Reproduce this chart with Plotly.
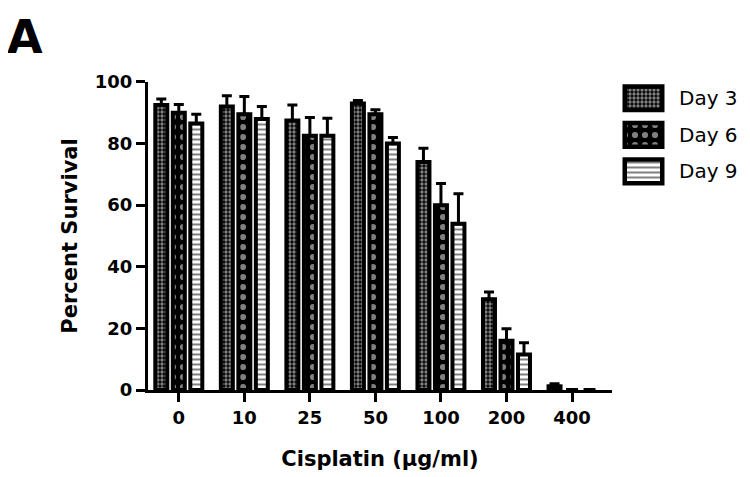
import plotly.graph_objects as go

categories = ["0", "10", "25", "50", "100", "200", "400"]
series_names = ["Day 3", "Day 6", "Day 9"]
day3 = [92.5, 92.0, 87.5, 93.0, 74.0, 29.5, 1.2]
day6 = [90.0, 89.5, 82.5, 89.5, 60.0, 16.0, 0.0]
day9 = [86.5, 88.0, 82.5, 80.0, 54.0, 11.5, 0.0]
err3 = [2.0, 3.5, 5.0, 1.0, 4.5, 2.3, 0.8]
err6 = [2.7, 5.8, 6.0, 1.5, 7.0, 3.9, 0.0]
err9 = [3.0, 4.0, 5.7, 2.0, 9.7, 3.8, 0.0]
y_ticks = [0, 20, 40, 60, 80, 100]

values = [day3, day6, day9]
errors = [err3, err6, err9]
patterns = [
    dict(shape=".", size=4, solidity=0.55, fgcolor="white", bgcolor="black"),
    dict(shape=".", size=10, solidity=0.3, fgcolor="white", bgcolor="black"),
    dict(shape="-", size=5, solidity=0.4, fgcolor="black", bgcolor="white"),
]

FONT = "DejaVu Sans"
OFF = 8  # page body margin
W, H = 750 - OFF, 477 - OFF
PLOT_LEFT, PLOT_RIGHT_REF, PLOT_TOP, PLOT_BOTTOM = 148, 740, 78, 392  # reference pixels
L = PLOT_LEFT - OFF
T = PLOT_TOP - OFF
R = W - (PLOT_RIGHT_REF - OFF)
B = H - (PLOT_BOTTOM - OFF)
PW = W - L - R
PH = H - T - B

def px_x(p):
    return (p - PLOT_LEFT) / PW

def px_y(p):
    return (PLOT_BOTTOM - p) / PH

fig = go.Figure()
xpos = list(range(len(categories)))
step = 0.267
bw = 0.183
for i, name in enumerate(series_names):
    fig.add_trace(go.Bar(
        x=xpos, y=values[i], name=name,
        width=bw, offset=(i - 1) * step - bw / 2,
        marker=dict(color="white", line=dict(color="black", width=4), pattern=patterns[i]),
        error_y=dict(type="data", symmetric=False, array=errors[i],
                     arrayminus=[0] * len(errors[i]), color="black", thickness=3, width=5),
        xaxis="x", yaxis="y", showlegend=False,
    ))

# legend swatches on a separate small axis
for i, name in enumerate(series_names):
    fig.add_trace(go.Bar(
        x=[1], y=[name], base=0, orientation="h", width=0.65, offset=-0.325,
        marker=dict(color="white", line=dict(color="black", width=4.5), pattern=patterns[i]),
        xaxis="x2", yaxis="y2", showlegend=False, hoverinfo="skip",
    ))

axis_common = dict(showline=True, linecolor="black", linewidth=3, ticks="outside",
                   ticklen=9, tickwidth=3, tickcolor="black", showgrid=False, zeroline=False,
                   tickfont=dict(family=FONT, size=18, color="black", weight="bold"))

fig.update_layout(
    width=W, height=H,
    margin=dict(l=L, r=R, t=T, b=B, pad=0),
    paper_bgcolor="white", plot_bgcolor="white",
    font=dict(family=FONT, color="black"),
    xaxis=dict(domain=[0, px_x(612)], range=[-0.47, 6.61], tickmode="array",
               tickvals=xpos, ticktext=categories,
               title=dict(text="Cisplatin (µg/ml)", font=dict(family=FONT, size=21, color="black", weight="bold"), standoff=25),
               **axis_common),
    yaxis=dict(domain=[0, px_y(82)], range=[0, 100], tickmode="array", tickvals=y_ticks,
               title=dict(text="Percent Survival", font=dict(family=FONT, size=21, color="black", weight="bold"), standoff=12),
               **axis_common),
    xaxis2=dict(domain=[px_x(620), px_x(667)], range=[-0.1267, 1.1267], visible=False, anchor="y2"),
    yaxis2=dict(domain=[px_y(190.25), px_y(80)], range=[2.5, -0.5], type="category",
                categoryorder="array", categoryarray=series_names, visible=False, anchor="x2"),
    annotations=[
        dict(text="<b>A</b>", xref="paper", yref="paper", x=px_x(5), y=px_y(8),
             xanchor="left", yanchor="top", showarrow=False,
             font=dict(family=FONT, size=46, color="black")),
    ] + [
        dict(text=name, xref="paper", yref="y2", x=px_x(677), y=i, xanchor="left",
             yanchor="middle", showarrow=False, font=dict(family=FONT, size=20, color="black"))
        for i, name in enumerate(series_names)
    ],
)

fig.write_html("out.html")
